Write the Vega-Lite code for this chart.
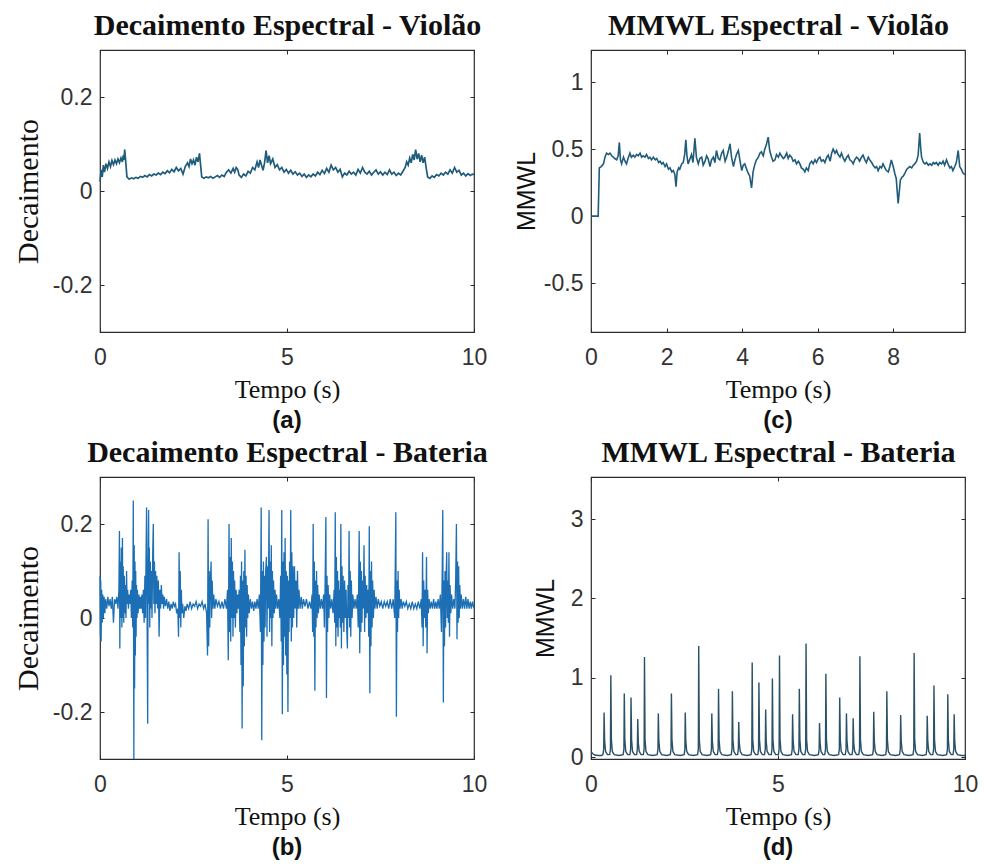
{
"$schema": "https://vega.github.io/schema/vega-lite/v6.json",
"background": "white",
"padding": {"left": 12, "top": 9, "right": 5, "bottom": 5},
"columns": 2,
"spacing": {"column": 25, "row": 2},
"config": {
  "view": {"stroke": "#2b2b2b", "strokeWidth": 1.2},
  "axis": {"domain": false, "grid": false, "ticks": true, "tickSize": -4, "tickColor": "#2b2b2b", "labelFont": "Liberation Sans", "labelFontSize": 23, "labelColor": "#333333", "labelFlush": false, "labelOverlap": false, "titleFont": "Liberation Serif", "titleFontWeight": "normal", "titleColor": "#111111"},
  "axisBottom": {"labelPadding": 18, "titleFontSize": 26, "titlePadding": 7},
  "axisLeft": {"labelPadding": 12},
  "axisTop": {"labels": false, "titleFontWeight": "bold", "titleFontSize": 30, "titlePadding": 9},
  "axisRight": {"labels": false},
  "title": {"font": "Liberation Sans", "fontWeight": "bold", "fontSize": 24, "color": "#111111", "orient": "bottom", "offset": 7}
},
"datasets": {
"a": [{"t":0,"v":0.02},{"t":0.03,"v":0.045},{"t":0.06,"v":0.03},{"t":0.09,"v":0.055},{"t":0.12,"v":0.04},{"t":0.16,"v":0.058},{"t":0.2,"v":0.048},{"t":0.24,"v":0.062},{"t":0.28,"v":0.052},{"t":0.32,"v":0.065},{"t":0.36,"v":0.056},{"t":0.4,"v":0.066},{"t":0.44,"v":0.058},{"t":0.48,"v":0.068},{"t":0.52,"v":0.06},{"t":0.56,"v":0.07},{"t":0.6,"v":0.062},{"t":0.62,"v":0.076},{"t":0.64,"v":0.066},{"t":0.66,"v":0.088},{"t":0.68,"v":0.07},{"t":0.7,"v":0.05},{"t":0.72,"v":0.03},{"t":0.78,"v":0.025},{"t":0.84,"v":0.028},{"t":0.9,"v":0.026},{"t":0.96,"v":0.029},{"t":1.02,"v":0.027},{"t":1.08,"v":0.031},{"t":1.14,"v":0.029},{"t":1.2,"v":0.033},{"t":1.26,"v":0.03},{"t":1.32,"v":0.035},{"t":1.38,"v":0.032},{"t":1.44,"v":0.036},{"t":1.5,"v":0.034},{"t":1.56,"v":0.038},{"t":1.62,"v":0.035},{"t":1.68,"v":0.04},{"t":1.74,"v":0.037},{"t":1.8,"v":0.043},{"t":1.86,"v":0.039},{"t":1.92,"v":0.046},{"t":1.98,"v":0.041},{"t":2.04,"v":0.05},{"t":2.1,"v":0.043},{"t":2.16,"v":0.048},{"t":2.22,"v":0.036},{"t":2.28,"v":0.052},{"t":2.34,"v":0.06},{"t":2.38,"v":0.052},{"t":2.42,"v":0.068},{"t":2.46,"v":0.058},{"t":2.5,"v":0.066},{"t":2.54,"v":0.055},{"t":2.58,"v":0.072},{"t":2.62,"v":0.062},{"t":2.66,"v":0.08},{"t":2.69,"v":0.055},{"t":2.72,"v":0.03},{"t":2.78,"v":0.027},{"t":2.84,"v":0.03},{"t":2.9,"v":0.028},{"t":2.96,"v":0.031},{"t":3.02,"v":0.027},{"t":3.08,"v":0.03},{"t":3.14,"v":0.033},{"t":3.2,"v":0.029},{"t":3.26,"v":0.034},{"t":3.32,"v":0.031},{"t":3.38,"v":0.04},{"t":3.44,"v":0.045},{"t":3.5,"v":0.038},{"t":3.56,"v":0.048},{"t":3.6,"v":0.04},{"t":3.64,"v":0.05},{"t":3.68,"v":0.046},{"t":3.72,"v":0.034},{"t":3.78,"v":0.029},{"t":3.84,"v":0.036},{"t":3.9,"v":0.032},{"t":3.96,"v":0.042},{"t":4.02,"v":0.038},{"t":4.08,"v":0.05},{"t":4.14,"v":0.045},{"t":4.2,"v":0.062},{"t":4.24,"v":0.05},{"t":4.28,"v":0.066},{"t":4.32,"v":0.055},{"t":4.36,"v":0.044},{"t":4.4,"v":0.06},{"t":4.44,"v":0.086},{"t":4.48,"v":0.06},{"t":4.52,"v":0.075},{"t":4.56,"v":0.058},{"t":4.62,"v":0.068},{"t":4.68,"v":0.05},{"t":4.74,"v":0.056},{"t":4.8,"v":0.045},{"t":4.86,"v":0.05},{"t":4.92,"v":0.04},{"t":4.98,"v":0.046},{"t":5.04,"v":0.038},{"t":5.1,"v":0.044},{"t":5.16,"v":0.036},{"t":5.22,"v":0.041},{"t":5.28,"v":0.034},{"t":5.34,"v":0.038},{"t":5.4,"v":0.031},{"t":5.46,"v":0.036},{"t":5.52,"v":0.029},{"t":5.58,"v":0.034},{"t":5.64,"v":0.03},{"t":5.7,"v":0.036},{"t":5.76,"v":0.032},{"t":5.82,"v":0.04},{"t":5.88,"v":0.035},{"t":5.94,"v":0.044},{"t":6.0,"v":0.037},{"t":6.06,"v":0.048},{"t":6.12,"v":0.04},{"t":6.18,"v":0.055},{"t":6.24,"v":0.045},{"t":6.3,"v":0.05},{"t":6.36,"v":0.04},{"t":6.42,"v":0.046},{"t":6.48,"v":0.03},{"t":6.54,"v":0.038},{"t":6.6,"v":0.034},{"t":6.66,"v":0.042},{"t":6.72,"v":0.036},{"t":6.78,"v":0.04},{"t":6.84,"v":0.034},{"t":6.9,"v":0.046},{"t":6.96,"v":0.038},{"t":7.02,"v":0.05},{"t":7.08,"v":0.04},{"t":7.14,"v":0.036},{"t":7.2,"v":0.042},{"t":7.26,"v":0.034},{"t":7.32,"v":0.04},{"t":7.38,"v":0.045},{"t":7.44,"v":0.036},{"t":7.5,"v":0.041},{"t":7.56,"v":0.034},{"t":7.62,"v":0.04},{"t":7.68,"v":0.035},{"t":7.74,"v":0.045},{"t":7.8,"v":0.036},{"t":7.86,"v":0.04},{"t":7.92,"v":0.033},{"t":7.98,"v":0.038},{"t":8.04,"v":0.034},{"t":8.1,"v":0.042},{"t":8.16,"v":0.05},{"t":8.2,"v":0.062},{"t":8.24,"v":0.055},{"t":8.28,"v":0.07},{"t":8.32,"v":0.06},{"t":8.36,"v":0.078},{"t":8.4,"v":0.066},{"t":8.44,"v":0.088},{"t":8.48,"v":0.068},{"t":8.52,"v":0.08},{"t":8.56,"v":0.062},{"t":8.6,"v":0.076},{"t":8.64,"v":0.06},{"t":8.68,"v":0.072},{"t":8.72,"v":0.05},{"t":8.76,"v":0.03},{"t":8.82,"v":0.027},{"t":8.88,"v":0.032},{"t":8.94,"v":0.029},{"t":9.0,"v":0.035},{"t":9.06,"v":0.032},{"t":9.12,"v":0.038},{"t":9.18,"v":0.034},{"t":9.24,"v":0.04},{"t":9.3,"v":0.036},{"t":9.36,"v":0.045},{"t":9.42,"v":0.038},{"t":9.48,"v":0.05},{"t":9.54,"v":0.04},{"t":9.6,"v":0.044},{"t":9.66,"v":0.034},{"t":9.72,"v":0.038},{"t":9.78,"v":0.032},{"t":9.84,"v":0.037},{"t":9.9,"v":0.033},{"t":9.96,"v":0.036},{"t":10,"v":0.035}],
"b": [{"t":0,"v":0.09},{"t":0.01,"v":-0.04},{"t":0.02,"v":0.08},{"t":0.03,"v":-0.05},{"t":0.045,"v":0.06},{"t":0.06,"v":-0.01},{"t":0.075,"v":0.05},{"t":0.09,"v":0.0},{"t":0.11,"v":0.045},{"t":0.13,"v":0.01},{"t":0.15,"v":0.04},{"t":0.18,"v":0.02},{"t":0.21,"v":0.045},{"t":0.24,"v":0.025},{"t":0.27,"v":0.04},{"t":0.3,"v":0.02},{"t":0.33,"v":0.045},{"t":0.36,"v":-0.01},{"t":0.39,"v":0.04},{"t":0.42,"v":0.03},{"t":0.45,"v":0.045},{"t":0.48,"v":0.02},{"t":0.505,"v":0.06},{"t":0.52,"v":0.185},{"t":0.53,"v":-0.065},{"t":0.545,"v":0.12},{"t":0.555,"v":0.0},{"t":0.57,"v":0.15},{"t":0.585,"v":-0.02},{"t":0.6,"v":0.17},{"t":0.61,"v":0.0},{"t":0.62,"v":0.11},{"t":0.635,"v":-0.01},{"t":0.65,"v":0.09},{"t":0.665,"v":0.01},{"t":0.68,"v":0.07},{"t":0.695,"v":0.0},{"t":0.71,"v":0.1},{"t":0.725,"v":0.03},{"t":0.74,"v":0.06},{"t":0.76,"v":0.02},{"t":0.78,"v":0.05},{"t":0.8,"v":0.03},{"t":0.82,"v":0.06},{"t":0.84,"v":0.0},{"t":0.86,"v":0.08},{"t":0.875,"v":-0.02},{"t":0.89,"v":0.25},{"t":0.905,"v":-0.3},{"t":0.915,"v":0.155},{"t":0.925,"v":-0.15},{"t":0.935,"v":0.12},{"t":0.945,"v":-0.08},{"t":0.955,"v":0.1},{"t":0.965,"v":-0.04},{"t":0.975,"v":0.07},{"t":0.99,"v":0.0},{"t":1.0,"v":0.06},{"t":1.02,"v":0.01},{"t":1.04,"v":0.05},{"t":1.06,"v":0.02},{"t":1.08,"v":0.045},{"t":1.1,"v":0.02},{"t":1.12,"v":0.05},{"t":1.14,"v":0.01},{"t":1.16,"v":0.06},{"t":1.18,"v":-0.01},{"t":1.2,"v":0.09},{"t":1.215,"v":0.0},{"t":1.23,"v":0.12},{"t":1.245,"v":0.235},{"t":1.26,"v":-0.01},{"t":1.275,"v":-0.225},{"t":1.285,"v":0.1},{"t":1.3,"v":0.23},{"t":1.31,"v":0.03},{"t":1.32,"v":0.15},{"t":1.33,"v":-0.02},{"t":1.345,"v":0.12},{"t":1.36,"v":0.02},{"t":1.375,"v":0.1},{"t":1.39,"v":0.0},{"t":1.41,"v":0.14},{"t":1.425,"v":0.2},{"t":1.44,"v":0.03},{"t":1.455,"v":0.12},{"t":1.47,"v":0.01},{"t":1.485,"v":0.1},{"t":1.5,"v":0.03},{"t":1.52,"v":0.09},{"t":1.54,"v":0.02},{"t":1.56,"v":0.08},{"t":1.58,"v":-0.04},{"t":1.6,"v":0.06},{"t":1.62,"v":0.02},{"t":1.64,"v":0.07},{"t":1.66,"v":0.03},{"t":1.68,"v":0.05},{"t":1.7,"v":0.02},{"t":1.72,"v":0.045},{"t":1.75,"v":0.025},{"t":1.78,"v":0.04},{"t":1.81,"v":0.02},{"t":1.84,"v":0.035},{"t":1.87,"v":0.015},{"t":1.9,"v":0.03},{"t":1.93,"v":0.02},{"t":1.96,"v":0.035},{"t":1.99,"v":0.025},{"t":2.02,"v":0.03},{"t":2.05,"v":0.01},{"t":2.08,"v":0.02},{"t":2.1,"v":-0.04},{"t":2.115,"v":0.14},{"t":2.13,"v":0.0},{"t":2.145,"v":0.1},{"t":2.16,"v":-0.02},{"t":2.175,"v":0.06},{"t":2.19,"v":0.01},{"t":2.21,"v":0.03},{"t":2.24,"v":0.0},{"t":2.27,"v":0.025},{"t":2.3,"v":0.015},{"t":2.33,"v":0.03},{"t":2.37,"v":0.02},{"t":2.41,"v":0.035},{"t":2.45,"v":0.02},{"t":2.49,"v":0.03},{"t":2.53,"v":0.025},{"t":2.57,"v":0.035},{"t":2.61,"v":0.02},{"t":2.65,"v":0.03},{"t":2.69,"v":0.025},{"t":2.73,"v":0.035},{"t":2.77,"v":0.02},{"t":2.81,"v":0.03},{"t":2.85,"v":0.01},{"t":2.875,"v":-0.08},{"t":2.89,"v":0.21},{"t":2.905,"v":-0.06},{"t":2.92,"v":0.1},{"t":2.935,"v":-0.02},{"t":2.95,"v":0.07},{"t":2.97,"v":0.12},{"t":2.985,"v":0.0},{"t":3.0,"v":0.08},{"t":3.02,"v":0.02},{"t":3.04,"v":0.05},{"t":3.07,"v":0.02},{"t":3.1,"v":0.04},{"t":3.14,"v":0.025},{"t":3.18,"v":0.035},{"t":3.22,"v":0.02},{"t":3.26,"v":0.035},{"t":3.3,"v":0.02},{"t":3.34,"v":0.04},{"t":3.38,"v":0.02},{"t":3.41,"v":0.06},{"t":3.43,"v":-0.09},{"t":3.45,"v":0.2},{"t":3.465,"v":-0.03},{"t":3.48,"v":0.13},{"t":3.495,"v":-0.05},{"t":3.51,"v":0.17},{"t":3.525,"v":0.0},{"t":3.54,"v":0.12},{"t":3.555,"v":-0.04},{"t":3.57,"v":0.1},{"t":3.585,"v":0.0},{"t":3.6,"v":0.08},{"t":3.62,"v":-0.02},{"t":3.64,"v":0.06},{"t":3.66,"v":0.01},{"t":3.68,"v":0.05},{"t":3.7,"v":0.02},{"t":3.72,"v":0.06},{"t":3.74,"v":-0.03},{"t":3.755,"v":0.09},{"t":3.77,"v":-0.1},{"t":3.785,"v":0.12},{"t":3.8,"v":-0.235},{"t":3.815,"v":0.08},{"t":3.83,"v":-0.145},{"t":3.845,"v":0.1},{"t":3.86,"v":-0.06},{"t":3.875,"v":0.145},{"t":3.89,"v":-0.02},{"t":3.905,"v":0.09},{"t":3.92,"v":-0.04},{"t":3.935,"v":0.07},{"t":3.95,"v":0.0},{"t":3.97,"v":0.05},{"t":3.99,"v":0.01},{"t":4.02,"v":0.04},{"t":4.05,"v":0.02},{"t":4.08,"v":0.035},{"t":4.11,"v":0.015},{"t":4.14,"v":0.035},{"t":4.17,"v":0.02},{"t":4.2,"v":0.04},{"t":4.23,"v":0.02},{"t":4.26,"v":0.05},{"t":4.29,"v":-0.03},{"t":4.31,"v":0.235},{"t":4.325,"v":-0.26},{"t":4.34,"v":0.1},{"t":4.355,"v":-0.1},{"t":4.37,"v":0.12},{"t":4.385,"v":-0.05},{"t":4.4,"v":0.09},{"t":4.415,"v":-0.02},{"t":4.43,"v":0.1},{"t":4.45,"v":0.13},{"t":4.465,"v":-0.04},{"t":4.48,"v":0.11},{"t":4.5,"v":0.02},{"t":4.52,"v":0.23},{"t":4.535,"v":-0.03},{"t":4.55,"v":0.12},{"t":4.565,"v":0.0},{"t":4.58,"v":0.155},{"t":4.595,"v":-0.06},{"t":4.61,"v":0.1},{"t":4.625,"v":0.0},{"t":4.64,"v":0.08},{"t":4.66,"v":0.01},{"t":4.68,"v":0.06},{"t":4.7,"v":0.02},{"t":4.72,"v":0.05},{"t":4.75,"v":0.02},{"t":4.78,"v":0.04},{"t":4.81,"v":0.0},{"t":4.83,"v":0.09},{"t":4.845,"v":-0.05},{"t":4.86,"v":0.23},{"t":4.875,"v":-0.205},{"t":4.89,"v":0.12},{"t":4.905,"v":-0.1},{"t":4.92,"v":0.14},{"t":4.935,"v":-0.04},{"t":4.95,"v":0.17},{"t":4.965,"v":-0.08},{"t":4.98,"v":0.1},{"t":4.995,"v":-0.12},{"t":5.01,"v":0.09},{"t":5.025,"v":-0.2},{"t":5.04,"v":0.08},{"t":5.055,"v":-0.03},{"t":5.07,"v":0.12},{"t":5.085,"v":0.0},{"t":5.1,"v":0.23},{"t":5.115,"v":-0.05},{"t":5.13,"v":0.14},{"t":5.145,"v":-0.02},{"t":5.16,"v":0.11},{"t":5.18,"v":0.0},{"t":5.2,"v":0.11},{"t":5.22,"v":0.02},{"t":5.24,"v":0.08},{"t":5.26,"v":-0.02},{"t":5.28,"v":0.1},{"t":5.3,"v":0.02},{"t":5.32,"v":0.06},{"t":5.35,"v":0.02},{"t":5.38,"v":0.045},{"t":5.41,"v":0.02},{"t":5.44,"v":0.04},{"t":5.48,"v":0.025},{"t":5.52,"v":0.04},{"t":5.56,"v":0.02},{"t":5.6,"v":0.035},{"t":5.64,"v":0.02},{"t":5.67,"v":0.05},{"t":5.685,"v":-0.03},{"t":5.7,"v":0.2},{"t":5.715,"v":-0.04},{"t":5.73,"v":0.12},{"t":5.745,"v":-0.155},{"t":5.76,"v":0.08},{"t":5.775,"v":-0.02},{"t":5.79,"v":0.1},{"t":5.805,"v":0.0},{"t":5.82,"v":0.07},{"t":5.84,"v":0.01},{"t":5.86,"v":0.05},{"t":5.89,"v":0.02},{"t":5.92,"v":0.04},{"t":5.95,"v":0.02},{"t":5.98,"v":0.05},{"t":6.0,"v":-0.02},{"t":6.02,"v":0.08},{"t":6.04,"v":0.215},{"t":6.055,"v":-0.17},{"t":6.07,"v":0.09},{"t":6.085,"v":-0.03},{"t":6.1,"v":0.07},{"t":6.12,"v":0.0},{"t":6.14,"v":0.05},{"t":6.17,"v":0.02},{"t":6.2,"v":0.04},{"t":6.23,"v":0.01},{"t":6.26,"v":0.06},{"t":6.275,"v":-0.01},{"t":6.29,"v":0.225},{"t":6.305,"v":-0.06},{"t":6.32,"v":0.13},{"t":6.335,"v":-0.02},{"t":6.35,"v":0.1},{"t":6.365,"v":-0.04},{"t":6.38,"v":0.08},{"t":6.395,"v":0.0},{"t":6.41,"v":0.06},{"t":6.425,"v":-0.02},{"t":6.44,"v":0.2},{"t":6.455,"v":-0.065},{"t":6.47,"v":0.11},{"t":6.485,"v":-0.01},{"t":6.5,"v":0.09},{"t":6.52,"v":-0.03},{"t":6.54,"v":0.08},{"t":6.56,"v":0.0},{"t":6.58,"v":0.06},{"t":6.6,"v":-0.03},{"t":6.615,"v":-0.065},{"t":6.63,"v":0.07},{"t":6.645,"v":0.0},{"t":6.66,"v":0.185},{"t":6.675,"v":-0.02},{"t":6.69,"v":0.1},{"t":6.705,"v":-0.04},{"t":6.72,"v":0.08},{"t":6.74,"v":0.0},{"t":6.76,"v":0.05},{"t":6.79,"v":0.02},{"t":6.82,"v":0.04},{"t":6.85,"v":0.02},{"t":6.88,"v":0.05},{"t":6.905,"v":-0.02},{"t":6.93,"v":0.185},{"t":6.945,"v":-0.075},{"t":6.96,"v":0.12},{"t":6.975,"v":-0.03},{"t":6.99,"v":0.1},{"t":7.005,"v":-0.01},{"t":7.02,"v":0.08},{"t":7.04,"v":0.02},{"t":7.06,"v":0.155},{"t":7.075,"v":-0.03},{"t":7.09,"v":0.09},{"t":7.11,"v":0.0},{"t":7.13,"v":0.07},{"t":7.15,"v":0.01},{"t":7.17,"v":0.06},{"t":7.185,"v":-0.04},{"t":7.2,"v":0.195},{"t":7.215,"v":-0.16},{"t":7.23,"v":0.1},{"t":7.245,"v":-0.06},{"t":7.26,"v":0.12},{"t":7.275,"v":-0.02},{"t":7.29,"v":0.08},{"t":7.31,"v":0.0},{"t":7.33,"v":0.06},{"t":7.35,"v":0.02},{"t":7.38,"v":0.045},{"t":7.41,"v":0.02},{"t":7.44,"v":0.04},{"t":7.48,"v":0.025},{"t":7.52,"v":0.035},{"t":7.56,"v":0.02},{"t":7.6,"v":0.035},{"t":7.64,"v":0.025},{"t":7.68,"v":0.035},{"t":7.72,"v":0.02},{"t":7.76,"v":0.04},{"t":7.8,"v":0.02},{"t":7.84,"v":0.04},{"t":7.88,"v":0.0},{"t":7.91,"v":0.225},{"t":7.925,"v":-0.21},{"t":7.94,"v":0.08},{"t":7.955,"v":-0.03},{"t":7.97,"v":0.1},{"t":7.985,"v":0.0},{"t":8.0,"v":0.06},{"t":8.02,"v":0.02},{"t":8.05,"v":0.04},{"t":8.08,"v":0.02},{"t":8.11,"v":0.035},{"t":8.15,"v":0.025},{"t":8.19,"v":0.035},{"t":8.23,"v":0.02},{"t":8.27,"v":0.03},{"t":8.31,"v":0.02},{"t":8.35,"v":0.035},{"t":8.39,"v":0.02},{"t":8.43,"v":0.03},{"t":8.47,"v":0.02},{"t":8.51,"v":0.035},{"t":8.55,"v":0.02},{"t":8.59,"v":0.04},{"t":8.61,"v":-0.02},{"t":8.625,"v":0.14},{"t":8.64,"v":-0.06},{"t":8.655,"v":0.08},{"t":8.67,"v":0.0},{"t":8.69,"v":0.06},{"t":8.71,"v":-0.02},{"t":8.73,"v":0.13},{"t":8.745,"v":-0.075},{"t":8.76,"v":0.06},{"t":8.78,"v":0.01},{"t":8.8,"v":0.04},{"t":8.83,"v":0.02},{"t":8.86,"v":0.035},{"t":8.89,"v":0.02},{"t":8.92,"v":0.04},{"t":8.95,"v":0.02},{"t":8.98,"v":0.035},{"t":9.01,"v":0.02},{"t":9.04,"v":0.04},{"t":9.07,"v":0.02},{"t":9.1,"v":0.05},{"t":9.13,"v":-0.03},{"t":9.15,"v":0.1},{"t":9.165,"v":0.23},{"t":9.18,"v":-0.18},{"t":9.195,"v":0.08},{"t":9.21,"v":-0.06},{"t":9.225,"v":0.1},{"t":9.24,"v":-0.02},{"t":9.255,"v":0.09},{"t":9.27,"v":0.14},{"t":9.285,"v":0.0},{"t":9.3,"v":0.08},{"t":9.315,"v":-0.01},{"t":9.33,"v":0.14},{"t":9.345,"v":-0.04},{"t":9.36,"v":0.07},{"t":9.38,"v":0.01},{"t":9.4,"v":0.05},{"t":9.43,"v":0.02},{"t":9.46,"v":0.04},{"t":9.49,"v":0.02},{"t":9.51,"v":0.08},{"t":9.53,"v":0.2},{"t":9.545,"v":-0.045},{"t":9.56,"v":0.12},{"t":9.575,"v":-0.01},{"t":9.59,"v":0.11},{"t":9.605,"v":0.0},{"t":9.62,"v":0.07},{"t":9.64,"v":0.02},{"t":9.66,"v":0.05},{"t":9.69,"v":0.02},{"t":9.72,"v":0.04},{"t":9.75,"v":0.02},{"t":9.78,"v":0.045},{"t":9.81,"v":0.02},{"t":9.84,"v":0.04},{"t":9.87,"v":0.02},{"t":9.9,"v":0.035},{"t":9.93,"v":0.02},{"t":9.96,"v":0.035},{"t":10,"v":0.02}],
"c": [{"t":0,"v":0},{"t":0.1,"v":0},{"t":0.19,"v":0},{"t":0.22,"v":0.36},{"t":0.27,"v":0.37},{"t":0.33,"v":0.39},{"t":0.37,"v":0.44},{"t":0.41,"v":0.47},{"t":0.46,"v":0.46},{"t":0.5,"v":0.47},{"t":0.55,"v":0.45},{"t":0.59,"v":0.44},{"t":0.63,"v":0.43},{"t":0.68,"v":0.42},{"t":0.72,"v":0.45},{"t":0.75,"v":0.55},{"t":0.78,"v":0.42},{"t":0.81,"v":0.39},{"t":0.84,"v":0.42},{"t":0.86,"v":0.44},{"t":0.9,"v":0.41},{"t":0.94,"v":0.39},{"t":0.98,"v":0.43},{"t":1.03,"v":0.47},{"t":1.07,"v":0.44},{"t":1.12,"v":0.455},{"t":1.16,"v":0.44},{"t":1.21,"v":0.46},{"t":1.25,"v":0.45},{"t":1.3,"v":0.47},{"t":1.34,"v":0.44},{"t":1.38,"v":0.45},{"t":1.43,"v":0.44},{"t":1.47,"v":0.46},{"t":1.52,"v":0.43},{"t":1.56,"v":0.44},{"t":1.6,"v":0.42},{"t":1.65,"v":0.44},{"t":1.7,"v":0.42},{"t":1.74,"v":0.43},{"t":1.79,"v":0.4},{"t":1.83,"v":0.41},{"t":1.87,"v":0.39},{"t":1.91,"v":0.4},{"t":1.96,"v":0.37},{"t":2.0,"v":0.39},{"t":2.05,"v":0.35},{"t":2.09,"v":0.36},{"t":2.14,"v":0.33},{"t":2.18,"v":0.34},{"t":2.22,"v":0.31},{"t":2.25,"v":0.22},{"t":2.28,"v":0.33},{"t":2.32,"v":0.36},{"t":2.35,"v":0.35},{"t":2.4,"v":0.39},{"t":2.44,"v":0.4},{"t":2.48,"v":0.46},{"t":2.51,"v":0.57},{"t":2.54,"v":0.45},{"t":2.57,"v":0.39},{"t":2.61,"v":0.42},{"t":2.66,"v":0.46},{"t":2.7,"v":0.4},{"t":2.75,"v":0.58},{"t":2.79,"v":0.44},{"t":2.84,"v":0.39},{"t":2.88,"v":0.43},{"t":2.93,"v":0.44},{"t":2.97,"v":0.38},{"t":3.02,"v":0.41},{"t":3.06,"v":0.45},{"t":3.1,"v":0.43},{"t":3.15,"v":0.37},{"t":3.19,"v":0.42},{"t":3.24,"v":0.44},{"t":3.28,"v":0.4},{"t":3.32,"v":0.49},{"t":3.37,"v":0.43},{"t":3.41,"v":0.42},{"t":3.46,"v":0.47},{"t":3.5,"v":0.49},{"t":3.55,"v":0.41},{"t":3.59,"v":0.44},{"t":3.63,"v":0.48},{"t":3.68,"v":0.54},{"t":3.72,"v":0.44},{"t":3.77,"v":0.37},{"t":3.81,"v":0.42},{"t":3.85,"v":0.46},{"t":3.9,"v":0.49},{"t":3.94,"v":0.42},{"t":3.99,"v":0.34},{"t":4.03,"v":0.38},{"t":4.07,"v":0.39},{"t":4.12,"v":0.35},{"t":4.16,"v":0.32},{"t":4.2,"v":0.3},{"t":4.25,"v":0.21},{"t":4.29,"v":0.33},{"t":4.34,"v":0.39},{"t":4.38,"v":0.42},{"t":4.43,"v":0.44},{"t":4.47,"v":0.47},{"t":4.51,"v":0.48},{"t":4.56,"v":0.45},{"t":4.6,"v":0.5},{"t":4.64,"v":0.53},{"t":4.69,"v":0.59},{"t":4.73,"v":0.49},{"t":4.78,"v":0.44},{"t":4.82,"v":0.41},{"t":4.87,"v":0.42},{"t":4.91,"v":0.46},{"t":4.96,"v":0.44},{"t":5.0,"v":0.47},{"t":5.04,"v":0.45},{"t":5.09,"v":0.43},{"t":5.13,"v":0.44},{"t":5.18,"v":0.47},{"t":5.22,"v":0.43},{"t":5.26,"v":0.455},{"t":5.31,"v":0.44},{"t":5.35,"v":0.41},{"t":5.4,"v":0.42},{"t":5.44,"v":0.39},{"t":5.49,"v":0.41},{"t":5.53,"v":0.39},{"t":5.57,"v":0.36},{"t":5.62,"v":0.35},{"t":5.66,"v":0.33},{"t":5.7,"v":0.36},{"t":5.75,"v":0.34},{"t":5.79,"v":0.39},{"t":5.84,"v":0.41},{"t":5.88,"v":0.39},{"t":5.93,"v":0.42},{"t":5.97,"v":0.4},{"t":6.02,"v":0.43},{"t":6.06,"v":0.44},{"t":6.1,"v":0.41},{"t":6.15,"v":0.42},{"t":6.19,"v":0.4},{"t":6.24,"v":0.44},{"t":6.28,"v":0.455},{"t":6.33,"v":0.41},{"t":6.37,"v":0.47},{"t":6.41,"v":0.5},{"t":6.46,"v":0.47},{"t":6.5,"v":0.49},{"t":6.54,"v":0.46},{"t":6.59,"v":0.44},{"t":6.63,"v":0.47},{"t":6.68,"v":0.43},{"t":6.72,"v":0.41},{"t":6.77,"v":0.44},{"t":6.81,"v":0.455},{"t":6.85,"v":0.42},{"t":6.9,"v":0.41},{"t":6.94,"v":0.39},{"t":6.98,"v":0.42},{"t":7.03,"v":0.44},{"t":7.07,"v":0.43},{"t":7.11,"v":0.41},{"t":7.16,"v":0.44},{"t":7.2,"v":0.455},{"t":7.25,"v":0.42},{"t":7.29,"v":0.4},{"t":7.34,"v":0.44},{"t":7.38,"v":0.42},{"t":7.43,"v":0.4},{"t":7.47,"v":0.38},{"t":7.52,"v":0.36},{"t":7.56,"v":0.37},{"t":7.6,"v":0.34},{"t":7.65,"v":0.37},{"t":7.69,"v":0.36},{"t":7.73,"v":0.39},{"t":7.78,"v":0.36},{"t":7.82,"v":0.34},{"t":7.87,"v":0.33},{"t":7.91,"v":0.37},{"t":7.95,"v":0.42},{"t":8.0,"v":0.37},{"t":8.04,"v":0.32},{"t":8.08,"v":0.28},{"t":8.13,"v":0.095},{"t":8.16,"v":0.18},{"t":8.19,"v":0.27},{"t":8.23,"v":0.29},{"t":8.27,"v":0.3},{"t":8.31,"v":0.32},{"t":8.36,"v":0.35},{"t":8.4,"v":0.36},{"t":8.44,"v":0.37},{"t":8.49,"v":0.36},{"t":8.53,"v":0.38},{"t":8.57,"v":0.39},{"t":8.62,"v":0.41},{"t":8.66,"v":0.455},{"t":8.7,"v":0.62},{"t":8.73,"v":0.5},{"t":8.75,"v":0.44},{"t":8.8,"v":0.4},{"t":8.84,"v":0.39},{"t":8.88,"v":0.4},{"t":8.93,"v":0.38},{"t":8.97,"v":0.39},{"t":9.02,"v":0.38},{"t":9.06,"v":0.4},{"t":9.1,"v":0.39},{"t":9.14,"v":0.4},{"t":9.19,"v":0.38},{"t":9.23,"v":0.4},{"t":9.28,"v":0.39},{"t":9.32,"v":0.41},{"t":9.36,"v":0.38},{"t":9.41,"v":0.42},{"t":9.45,"v":0.39},{"t":9.5,"v":0.36},{"t":9.54,"v":0.37},{"t":9.58,"v":0.34},{"t":9.63,"v":0.37},{"t":9.67,"v":0.4},{"t":9.72,"v":0.49},{"t":9.76,"v":0.37},{"t":9.8,"v":0.35},{"t":9.85,"v":0.32},{"t":9.9,"v":0.31}],
"d": [{"t":0,"v":0.07},{"t":0.04,"v":0.045},{"t":0.1,"v":0.025},{"t":0.2,"v":0.02},{"t":0.28,"v":0.02},{"t":0.32,"v":0.03},{"t":0.34,"v":0.1},{"t":0.35,"v":0.56},{"t":0.365,"v":0.2},{"t":0.39,"v":0.07},{"t":0.44,"v":0.03},{"t":0.5,"v":0.03},{"t":0.52,"v":0.1},{"t":0.53,"v":1.03},{"t":0.545,"v":0.22},{"t":0.57,"v":0.07},{"t":0.62,"v":0.03},{"t":0.75,"v":0.02},{"t":0.86,"v":0.03},{"t":0.88,"v":0.1},{"t":0.89,"v":0.8},{"t":0.905,"v":0.22},{"t":0.93,"v":0.07},{"t":0.98,"v":0.03},{"t":1.04,"v":0.03},{"t":1.06,"v":0.1},{"t":1.07,"v":0.75},{"t":1.085,"v":0.22},{"t":1.11,"v":0.07},{"t":1.16,"v":0.03},{"t":1.22,"v":0.03},{"t":1.24,"v":0.1},{"t":1.25,"v":0.48},{"t":1.265,"v":0.18},{"t":1.29,"v":0.07},{"t":1.34,"v":0.03},{"t":1.4,"v":0.03},{"t":1.42,"v":0.1},{"t":1.43,"v":1.26},{"t":1.445,"v":0.22},{"t":1.47,"v":0.07},{"t":1.52,"v":0.03},{"t":1.65,"v":0.02},{"t":1.77,"v":0.03},{"t":1.79,"v":0.1},{"t":1.8,"v":0.55},{"t":1.815,"v":0.2},{"t":1.84,"v":0.07},{"t":1.89,"v":0.03},{"t":2.02,"v":0.02},{"t":2.12,"v":0.03},{"t":2.14,"v":0.1},{"t":2.15,"v":0.8},{"t":2.165,"v":0.22},{"t":2.19,"v":0.07},{"t":2.24,"v":0.03},{"t":2.38,"v":0.02},{"t":2.49,"v":0.03},{"t":2.51,"v":0.1},{"t":2.52,"v":0.56},{"t":2.535,"v":0.2},{"t":2.56,"v":0.07},{"t":2.61,"v":0.03},{"t":2.74,"v":0.02},{"t":2.85,"v":0.03},{"t":2.87,"v":0.1},{"t":2.88,"v":1.4},{"t":2.895,"v":0.22},{"t":2.92,"v":0.07},{"t":2.97,"v":0.03},{"t":3.1,"v":0.02},{"t":3.2,"v":0.03},{"t":3.22,"v":0.1},{"t":3.23,"v":0.55},{"t":3.245,"v":0.2},{"t":3.27,"v":0.07},{"t":3.32,"v":0.03},{"t":3.38,"v":0.03},{"t":3.4,"v":0.1},{"t":3.41,"v":0.86},{"t":3.425,"v":0.22},{"t":3.45,"v":0.07},{"t":3.5,"v":0.03},{"t":3.64,"v":0.02},{"t":3.75,"v":0.03},{"t":3.77,"v":0.1},{"t":3.78,"v":0.83},{"t":3.795,"v":0.22},{"t":3.82,"v":0.07},{"t":3.87,"v":0.03},{"t":3.92,"v":0.03},{"t":3.94,"v":0.1},{"t":3.95,"v":0.44},{"t":3.965,"v":0.18},{"t":3.99,"v":0.07},{"t":4.04,"v":0.03},{"t":4.17,"v":0.02},{"t":4.28,"v":0.03},{"t":4.3,"v":0.1},{"t":4.31,"v":1.19},{"t":4.325,"v":0.22},{"t":4.35,"v":0.07},{"t":4.4,"v":0.03},{"t":4.46,"v":0.03},{"t":4.48,"v":0.1},{"t":4.49,"v":0.94},{"t":4.505,"v":0.22},{"t":4.53,"v":0.07},{"t":4.58,"v":0.03},{"t":4.64,"v":0.03},{"t":4.66,"v":0.1},{"t":4.67,"v":0.6},{"t":4.685,"v":0.2},{"t":4.71,"v":0.07},{"t":4.76,"v":0.03},{"t":4.82,"v":0.03},{"t":4.84,"v":0.1},{"t":4.85,"v":0.99},{"t":4.865,"v":0.22},{"t":4.89,"v":0.07},{"t":4.94,"v":0.03},{"t":5.01,"v":0.03},{"t":5.03,"v":0.1},{"t":5.04,"v":1.28},{"t":5.055,"v":0.22},{"t":5.08,"v":0.07},{"t":5.13,"v":0.03},{"t":5.26,"v":0.02},{"t":5.36,"v":0.03},{"t":5.38,"v":0.1},{"t":5.39,"v":0.54},{"t":5.405,"v":0.2},{"t":5.43,"v":0.07},{"t":5.48,"v":0.03},{"t":5.54,"v":0.03},{"t":5.56,"v":0.1},{"t":5.57,"v":0.86},{"t":5.585,"v":0.22},{"t":5.61,"v":0.07},{"t":5.66,"v":0.03},{"t":5.72,"v":0.03},{"t":5.74,"v":0.1},{"t":5.75,"v":1.43},{"t":5.765,"v":0.22},{"t":5.79,"v":0.07},{"t":5.84,"v":0.03},{"t":5.97,"v":0.02},{"t":6.08,"v":0.03},{"t":6.1,"v":0.1},{"t":6.11,"v":0.43},{"t":6.125,"v":0.18},{"t":6.15,"v":0.07},{"t":6.2,"v":0.03},{"t":6.25,"v":0.03},{"t":6.27,"v":0.1},{"t":6.28,"v":1.05},{"t":6.295,"v":0.22},{"t":6.32,"v":0.07},{"t":6.37,"v":0.03},{"t":6.5,"v":0.02},{"t":6.62,"v":0.03},{"t":6.64,"v":0.1},{"t":6.65,"v":0.75},{"t":6.665,"v":0.22},{"t":6.69,"v":0.07},{"t":6.74,"v":0.03},{"t":6.8,"v":0.03},{"t":6.82,"v":0.1},{"t":6.83,"v":0.55},{"t":6.845,"v":0.2},{"t":6.87,"v":0.07},{"t":6.92,"v":0.03},{"t":6.98,"v":0.03},{"t":7.0,"v":0.1},{"t":7.01,"v":0.49},{"t":7.025,"v":0.18},{"t":7.05,"v":0.07},{"t":7.1,"v":0.03},{"t":7.16,"v":0.03},{"t":7.18,"v":0.1},{"t":7.19,"v":1.27},{"t":7.205,"v":0.22},{"t":7.23,"v":0.07},{"t":7.28,"v":0.03},{"t":7.42,"v":0.02},{"t":7.53,"v":0.03},{"t":7.55,"v":0.1},{"t":7.56,"v":0.57},{"t":7.575,"v":0.2},{"t":7.6,"v":0.07},{"t":7.65,"v":0.03},{"t":7.78,"v":0.02},{"t":7.88,"v":0.03},{"t":7.9,"v":0.1},{"t":7.91,"v":0.83},{"t":7.925,"v":0.22},{"t":7.95,"v":0.07},{"t":8.0,"v":0.03},{"t":8.14,"v":0.02},{"t":8.25,"v":0.03},{"t":8.27,"v":0.1},{"t":8.28,"v":0.53},{"t":8.295,"v":0.2},{"t":8.32,"v":0.07},{"t":8.37,"v":0.03},{"t":8.5,"v":0.02},{"t":8.61,"v":0.03},{"t":8.63,"v":0.1},{"t":8.64,"v":1.31},{"t":8.655,"v":0.22},{"t":8.68,"v":0.07},{"t":8.73,"v":0.03},{"t":8.86,"v":0.02},{"t":8.96,"v":0.03},{"t":8.98,"v":0.1},{"t":8.99,"v":0.52},{"t":9.005,"v":0.2},{"t":9.03,"v":0.07},{"t":9.08,"v":0.03},{"t":9.14,"v":0.03},{"t":9.16,"v":0.1},{"t":9.17,"v":0.9},{"t":9.185,"v":0.22},{"t":9.21,"v":0.07},{"t":9.26,"v":0.03},{"t":9.4,"v":0.02},{"t":9.51,"v":0.03},{"t":9.53,"v":0.1},{"t":9.54,"v":0.79},{"t":9.555,"v":0.22},{"t":9.58,"v":0.07},{"t":9.63,"v":0.03},{"t":9.68,"v":0.03},{"t":9.7,"v":0.1},{"t":9.71,"v":0.54},{"t":9.725,"v":0.2},{"t":9.75,"v":0.07},{"t":9.8,"v":0.03},{"t":9.9,"v":0.02},{"t":10,"v":0.02}]
},
"concat": [
{
 "width": 374, "height": 282,
 "data": {"name": "a"},
 "title": {"text": "(a)"},
 "resolve": {"axis": {"x": "independent", "y": "independent"}},
 "layer": [
  {"mark": {"type": "line", "color": "#1f5b7a", "strokeWidth": 1.7},
   "encoding": {
    "x": {"field": "t", "type": "quantitative", "scale": {"domain": [0, 10], "nice": false, "zero": false}, "axis": {"orient": "bottom", "title": "Tempo (s)", "values": [0, 5, 10], "labelExpr": "toString(datum.value)"}},
    "y": {"field": "v", "type": "quantitative", "scale": {"domain": [-0.3, 0.3], "nice": false, "zero": false}, "axis": {"orient": "left", "title": "Decaimento", "titleFontSize": 30, "titlePadding": 9, "values": [-0.2, 0, 0.2], "labelExpr": "toString(datum.value)"}}
   }},
  {"mark": {"type": "line", "strokeOpacity": 0},
   "encoding": {
    "x": {"field": "t", "type": "quantitative", "axis": {"orient": "top", "title": "Decaimento Espectral - Violão", "values": [0, 5, 10]}},
    "y": {"field": "v", "type": "quantitative", "axis": {"orient": "right", "title": null, "values": [-0.2, 0, 0.2]}}
   }}
 ]
},
{
 "width": 374, "height": 282,
 "data": {"name": "c"},
 "title": {"text": "(c)"},
 "resolve": {"axis": {"x": "independent", "y": "independent"}},
 "layer": [
  {"mark": {"type": "line", "color": "#1f5b7a", "strokeWidth": 1.6},
   "encoding": {
    "x": {"field": "t", "type": "quantitative", "scale": {"domain": [0, 9.9], "nice": false, "zero": false}, "axis": {"orient": "bottom", "title": "Tempo (s)", "values": [0, 2, 4, 6, 8], "labelExpr": "toString(datum.value)"}},
    "y": {"field": "v", "type": "quantitative", "scale": {"domain": [-0.865, 1.24], "nice": false, "zero": false}, "axis": {"orient": "left", "title": "MMWL", "titleFont": "Liberation Sans", "titleFontSize": 25, "titlePadding": 4, "values": [-0.5, 0, 0.5, 1], "labelExpr": "toString(datum.value)"}}
   }},
  {"mark": {"type": "line", "strokeOpacity": 0},
   "encoding": {
    "x": {"field": "t", "type": "quantitative", "axis": {"orient": "top", "title": "MMWL Espectral - Violão", "values": [0, 2, 4, 6, 8]}},
    "y": {"field": "v", "type": "quantitative", "axis": {"orient": "right", "title": null, "values": [-0.5, 0, 0.5, 1]}}
   }}
 ]
},
{
 "width": 374, "height": 282,
 "data": {"name": "b"},
 "title": {"text": "(b)"},
 "resolve": {"axis": {"x": "independent", "y": "independent"}},
 "layer": [
  {"mark": {"type": "line", "color": "#1c6fb4", "strokeWidth": 1.3},
   "encoding": {
    "x": {"field": "t", "type": "quantitative", "scale": {"domain": [0, 10], "nice": false, "zero": false}, "axis": {"orient": "bottom", "title": "Tempo (s)", "values": [0, 5, 10], "labelExpr": "toString(datum.value)"}},
    "y": {"field": "v", "type": "quantitative", "scale": {"domain": [-0.3, 0.3], "nice": false, "zero": false}, "axis": {"orient": "left", "title": "Decaimento", "titleFontSize": 30, "titlePadding": 9, "values": [-0.2, 0, 0.2], "labelExpr": "toString(datum.value)"}}
   }},
  {"mark": {"type": "line", "strokeOpacity": 0},
   "encoding": {
    "x": {"field": "t", "type": "quantitative", "axis": {"orient": "top", "title": "Decaimento Espectral - Bateria", "values": [0, 5, 10]}},
    "y": {"field": "v", "type": "quantitative", "axis": {"orient": "right", "title": null, "values": [-0.2, 0, 0.2]}}
   }}
 ]
},
{
 "width": 374, "height": 282,
 "data": {"name": "d"},
 "title": {"text": "(d)"},
 "resolve": {"axis": {"x": "independent", "y": "independent"}},
 "layer": [
  {"mark": {"type": "line", "color": "#2a5166", "strokeWidth": 1.4},
   "encoding": {
    "x": {"field": "t", "type": "quantitative", "scale": {"domain": [0, 10], "nice": false, "zero": false}, "axis": {"orient": "bottom", "title": "Tempo (s)", "values": [0, 5, 10], "labelExpr": "toString(datum.value)"}},
    "y": {"field": "v", "type": "quantitative", "scale": {"domain": [-0.025, 3.53], "nice": false, "zero": false}, "axis": {"orient": "left", "title": "MMWL", "titleFont": "Liberation Sans", "titleFontSize": 25, "titlePadding": 12, "values": [0, 1, 2, 3], "labelExpr": "toString(datum.value)"}}
   }},
  {"mark": {"type": "line", "strokeOpacity": 0},
   "encoding": {
    "x": {"field": "t", "type": "quantitative", "axis": {"orient": "top", "title": "MMWL Espectral - Bateria", "values": [0, 5, 10]}},
    "y": {"field": "v", "type": "quantitative", "axis": {"orient": "right", "title": null, "values": [0, 1, 2, 3]}}
   }}
 ]
}
]
}
